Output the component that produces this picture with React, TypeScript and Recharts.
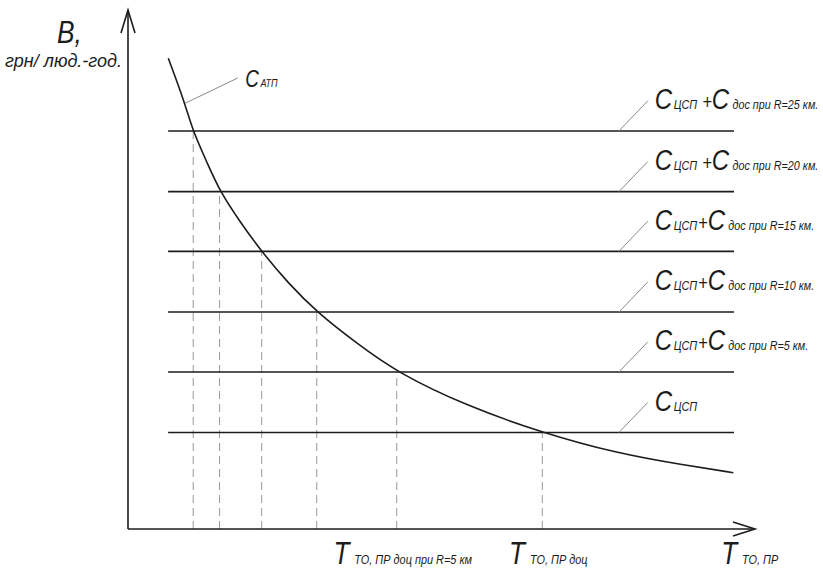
import React from 'react';
import { ComposedChart, Line, XAxis, YAxis, ReferenceLine, ReferenceDot, Label } from 'recharts';

// Curve C_АТП
const curveT = [6.43, 9.09, 10.32, 12.55, 14.67, 17.86, 21.32, 25.57, 30.14, 36.48, 42.86, 54.02, 66.08, 77.94, 88.56, 96.54];
const curveC = [90.69, 82.02, 76.74, 70.77, 64.99, 59.21, 53.43, 47.34, 41.75, 35.78, 30.19, 23.7, 18.55, 14.59, 12.33, 10.85];

// Horizontal cost levels (top to bottom) and where they cross the curve
const levels = [76.7, 65.0, 53.5, 41.8, 30.25, 18.6];
const crossT = [10.4, 14.6, 21.32, 30.1, 42.86, 66.08];
const levelStartT = 6.4;
const levelEndT = 96.65;

// Level label parts
const levelSub1 = ['ЦСП', 'ЦСП', 'ЦСП', 'ЦСП', 'ЦСП', 'ЦСП'];
const levelPlus = [' +', ' +', '+', '+', '+', ''];
const levelSub2 = ['дос при R=25 км.', 'дос при R=20 км.', 'дос при R=15 км.', 'дос при R=10 км.', 'дос при R=5 км.', ''];

// X tick labels
const xTicks = [42.86, 66.08, 98.2];
const xTickSubs = ['ТО, ПР доц при R=5 км', 'ТО, ПР доц', 'ТО, ПР'];

const FONT = '"Liberation Sans", Arial, sans-serif';
const INK = '#1c1c1c';

const data = curveT.map((t, i) => ({ t, c: curveC[i] }));

const calloutT0 = 78.3;
const calloutT1 = 82.9;
const calloutDC = 5.8;
const labelT = 84.0;
const labelDC = 4.2;

const Narrow = ({ x, y, sx, anchor, children }: any) => (
  <g transform={`translate(${x},${y}) scale(${sx},1)`}>
    <text x={0} y={0} textAnchor={anchor || 'start'} fontFamily={FONT} fontStyle="italic" fill={INK}>
      {children}
    </text>
  </g>
);

const renderXTick = (props: any) => {
  const { x, y, index } = props;
  return (
    <Narrow x={x + 6} y={y + 27} sx={0.84} anchor="middle">
      <tspan fontSize={31}>T</tspan>
      <tspan fontSize={13} dx={6}>{xTickSubs[index]}</tspan>
    </Narrow>
  );
};

const renderYLabel = (props: any) => {
  const vb = props.viewBox || { x: 0, y: 10, width: 128 };
  return (
    <g>
      <Narrow x={vb.x + 57} y={vb.y + 33} sx={0.85}>
        <tspan fontSize={31}>B,</tspan>
      </Narrow>
      <Narrow x={vb.x + vb.width - 6} y={vb.y + 57} sx={1.0} anchor="end">
        <tspan fontSize={18}>грн/ люд.-год.</tspan>
      </Narrow>
    </g>
  );
};

const arrowRight = (p: any) => (
  <path d={`M${p.cx - 22},${p.cy - 7} L${p.cx},${p.cy} L${p.cx - 22},${p.cy + 7}`} fill="none" stroke={INK} strokeWidth={1.6} />
);
const arrowUp = (p: any) => (
  <path d={`M${p.cx - 7},${p.cy + 23} L${p.cx},${p.cy} L${p.cx + 7},${p.cy + 23}`} fill="none" stroke={INK} strokeWidth={1.6} />
);

const makeLevelLabel = (i: number) => (p: any) => (
  <Narrow x={p.cx} y={p.cy} sx={0.83}>
    <tspan fontSize={29}>C</tspan>
    <tspan fontSize={13} dx={2}>{levelSub1[i]}</tspan>
    {levelPlus[i] ? <tspan fontSize={20} dx={levelPlus[i].startsWith(' ') ? 6 : 1}>+</tspan> : null}
    {levelPlus[i] ? <tspan fontSize={29}>C</tspan> : null}
    {levelSub2[i] ? <tspan fontSize={13} dx={4}>{levelSub2[i]}</tspan> : null}
  </Narrow>
);

const atpLabel = (p: any) => (
  <Narrow x={p.cx} y={p.cy} sx={0.82}>
    <tspan fontSize={23}>C</tspan>
    <tspan fontSize={11} dx={2}>АТП</tspan>
  </Narrow>
);

export default function App() {
  return (
    <div style={{ position: 'absolute', left: 0, top: 0, background: '#fff' }}>
      <ComposedChart width={823} height={575} data={data} margin={{ top: 10, right: 68, bottom: 0, left: 0 }}>
        <XAxis
          dataKey="t"
          type="number"
          domain={[0, 100]}
          allowDataOverflow
          ticks={xTicks}
          interval={0}
          tickLine={false}
          tick={renderXTick}
          height={46}
          axisLine={{ stroke: INK, strokeWidth: 1.6 }}
        />
        <YAxis
          type="number"
          domain={[0, 100]}
          allowDataOverflow
          tick={false}
          tickLine={false}
          width={128}
          axisLine={{ stroke: INK, strokeWidth: 1.6 }}
        >
          <Label content={renderYLabel} />
        </YAxis>

        {levels.map((lv, i) => (
          <ReferenceLine
            key={'d' + i}
            segment={[{ x: crossT[i], y: 0 }, { x: crossT[i], y: lv }]}
            stroke="#9a9a9a"
            strokeWidth={1}
            strokeDasharray="8 5"
            ifOverflow="visible"
          />
        ))}
        {levels.map((lv, i) => (
          <ReferenceLine
            key={'h' + i}
            segment={[{ x: levelStartT, y: lv }, { x: levelEndT, y: lv }]}
            stroke={INK}
            strokeWidth={1.6}
            ifOverflow="visible"
          />
        ))}
        {levels.map((lv, i) => (
          <ReferenceLine
            key={'c' + i}
            segment={[{ x: calloutT0, y: lv }, { x: calloutT1, y: lv + calloutDC }]}
            stroke="#8a8a8a"
            strokeWidth={1}
            ifOverflow="visible"
          />
        ))}
        {levels.map((lv, i) => (
          <ReferenceDot key={'l' + i} x={labelT} y={lv + labelDC} r={0} ifOverflow="visible" shape={makeLevelLabel(i)} />
        ))}

        <ReferenceLine
          segment={[{ x: curveT[1], y: curveC[1] }, { x: 17.5, y: 86.9 }]}
          stroke="#8a8a8a"
          strokeWidth={1}
          ifOverflow="visible"
        />
        <ReferenceDot x={18.7} y={85.2} r={0} ifOverflow="visible" shape={atpLabel} />

        <Line
          type="basis"
          dataKey="c"
          stroke={INK}
          strokeWidth={1.6}
          dot={false}
          activeDot={false}
          isAnimationActive={false}
        />

        <ReferenceDot x={100} y={0} r={0} ifOverflow="visible" shape={arrowRight} />
        <ReferenceDot x={0} y={100} r={0} ifOverflow="visible" shape={arrowUp} />
      </ComposedChart>
    </div>
  );
}
